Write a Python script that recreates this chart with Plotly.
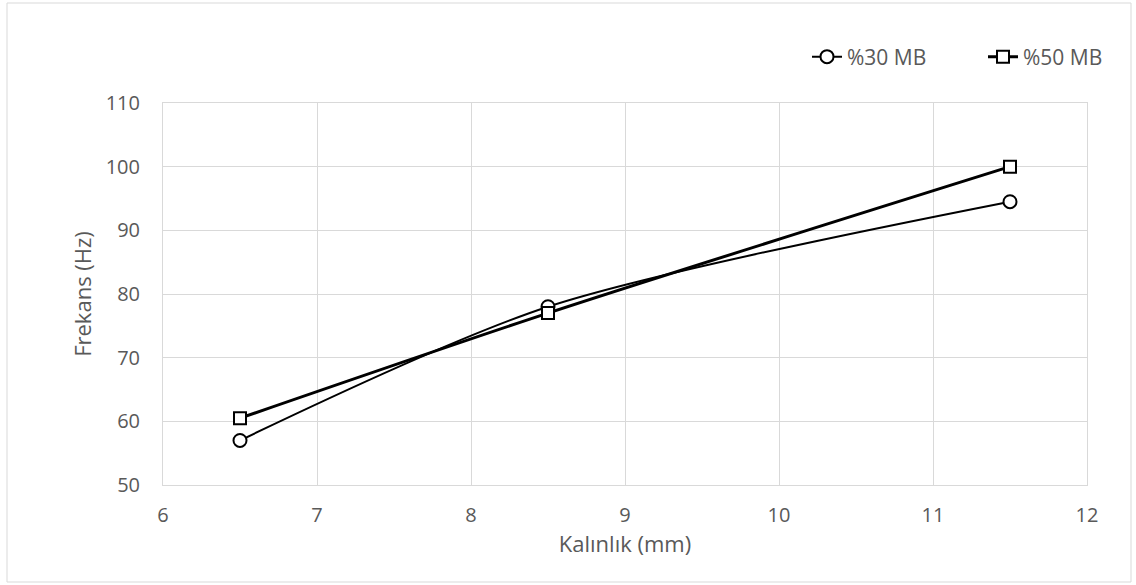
import plotly.graph_objects as go

# Thickness (mm) and measured frequency (Hz) for the two mixes
kalinlik = [6.5, 8.5, 11.5]
mb30 = [57, 78, 94.5]
mb50 = [60.5, 77, 100]

W, H = 1136, 585
L, R, T, B = 163, 49, 103, 100
pw, ph = W - L - R, H - T - B

def px_x(p):
    return (p - L) / pw

def px_y(p):
    return (H - B - p) / ph

grey = "#595959"
grid = "#d9d9d9"
font = "Open Sans"

fig = go.Figure()
fig.add_trace(go.Scatter(
    x=kalinlik, y=mb30, name="%30 MB", mode="lines+markers", legend="legend",
    line=dict(color="black", width=2, shape="spline", smoothing=0.8),
    marker=dict(symbol="circle", size=13, color="white",
                line=dict(color="black", width=2)),
))
fig.add_trace(go.Scatter(
    x=kalinlik, y=mb50, name="%50 MB", mode="lines+markers", legend="legend2",
    line=dict(color="black", width=3, shape="spline", smoothing=0.8),
    marker=dict(symbol="square", size=12, color="white",
                line=dict(color="black", width=2)),
))

legend_style = dict(orientation="h", yanchor="middle", y=px_y(57),
                    xanchor="left", font=dict(size=21, color=grey),
                    bgcolor="rgba(0,0,0,0)")

fig.update_layout(
    width=W, height=H,
    margin=dict(l=L, r=R, t=T, b=B),
    paper_bgcolor="white", plot_bgcolor="white",
    font=dict(family=font, size=20, color=grey),
    showlegend=True,
    legend=dict(legend_style, x=px_x(807)),
    legend2=dict(legend_style, x=px_x(983)),
    xaxis=dict(range=[6, 12], dtick=1, tick0=6, showgrid=True, gridcolor=grid,
               gridwidth=1, showline=True, linecolor=grid, mirror=True,
               zeroline=False, ticks="", ticklabelstandoff=12,
               tickfont=dict(size=20, color=grey),
               title=dict(text="Kalınlık (mm)", font=dict(size=22, color=grey),
                          standoff=4)),
    yaxis=dict(range=[50, 110], dtick=10, tick0=50, showgrid=True, gridcolor=grid,
               gridwidth=1, showline=True, linecolor=grid, mirror=True,
               zeroline=False, ticks="", ticklabelstandoff=18,
               tickfont=dict(size=20, color=grey),
               title=dict(text="Frekans (Hz)", font=dict(size=22, color=grey),
                          standoff=7)),
    shapes=[dict(type="rect", xref="paper", yref="paper",
                 x0=px_x(7), x1=px_x(1131), y0=px_y(582), y1=px_y(3),
                 line=dict(color=grid, width=1), fillcolor="rgba(0,0,0,0)",
                 layer="below")],
)

fig.write_html("out.html")
